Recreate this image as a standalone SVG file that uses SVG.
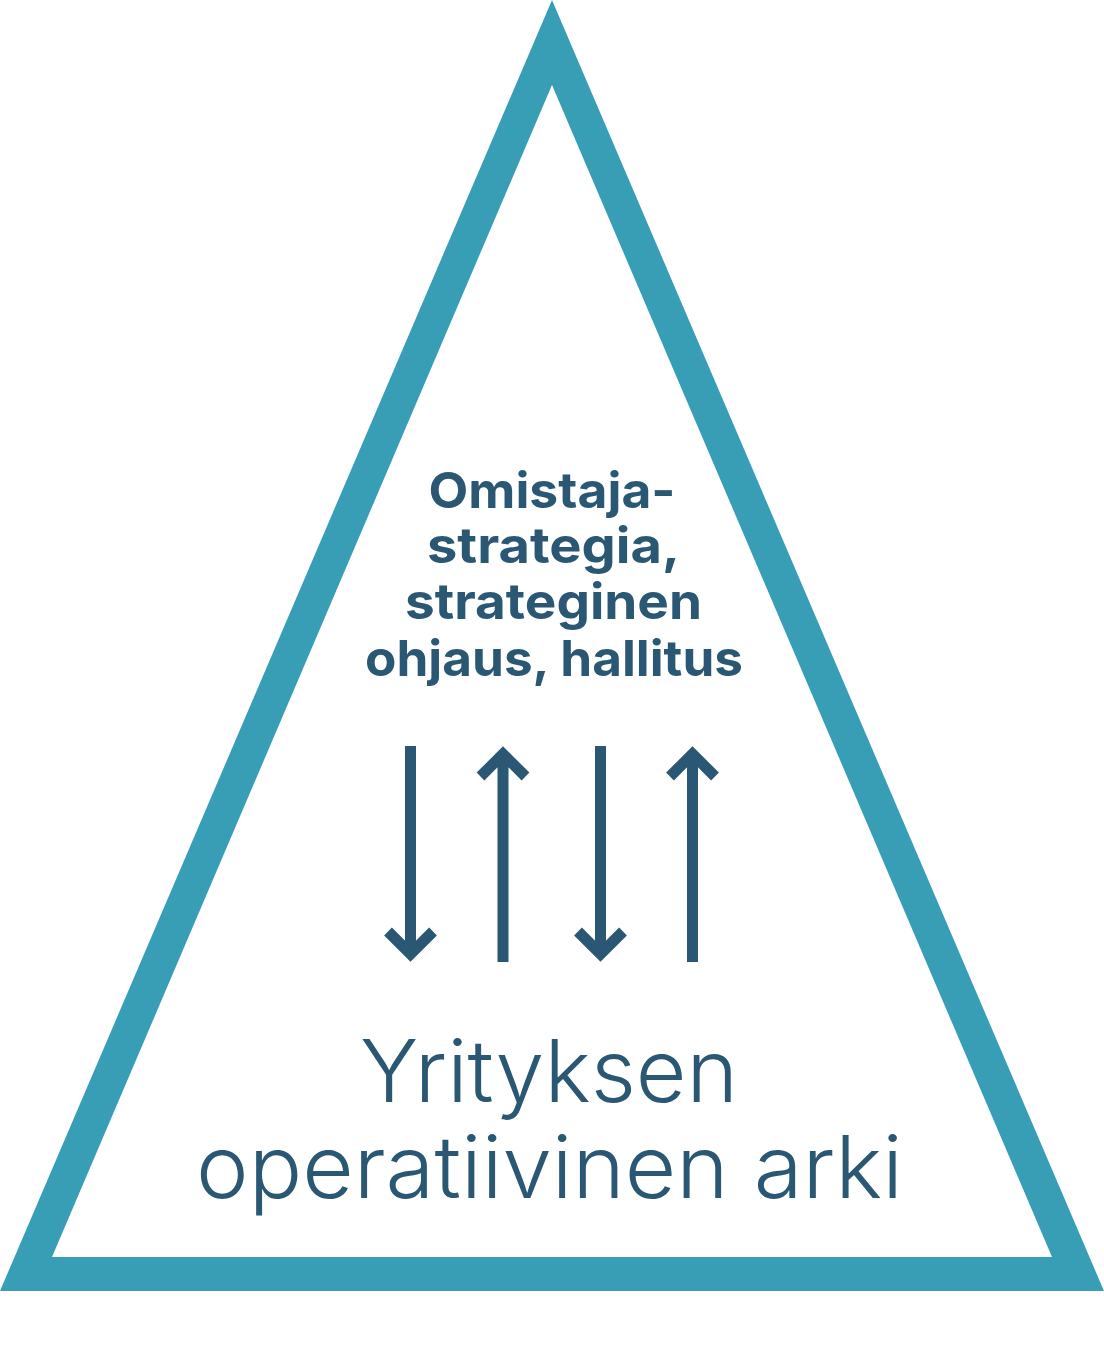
<svg xmlns="http://www.w3.org/2000/svg" width="1104" height="1347" viewBox="0 0 1104 1347">
<style>
.tri{fill:#379EB6;fill-rule:evenodd}
.arr{fill:none;stroke:#2A5874;stroke-width:11;stroke-linecap:butt;stroke-linejoin:miter;stroke-miterlimit:10}
.bold{font-family:Inter,"Open Sans","Liberation Sans",sans-serif;font-weight:700;font-size:50px;fill:#2A5874;text-anchor:middle}
.light{font-family:Inter,Lato,"Liberation Sans",sans-serif;font-weight:300;font-size:86px;fill:#2A5874;text-anchor:middle}
</style>
<rect width="1104" height="1347" fill="#ffffff"/>
<g id="triangle">
<path class="tri" d="M552,0 L1104,1291 L0,1291 Z M552,85 L52,1257 L1052,1257 Z"/>
</g>
<g id="node-top">
<text class="bold" x="552" y="508" textLength="247" lengthAdjust="spacingAndGlyphs">Omistaja-</text>
<text class="bold" x="553.5" y="563" textLength="253" lengthAdjust="spacingAndGlyphs">strategia,</text>
<text class="bold" x="553.5" y="619" textLength="297" lengthAdjust="spacingAndGlyphs">strateginen</text>
<text class="bold" x="554" y="676" textLength="378" lengthAdjust="spacingAndGlyphs">ohjaus, hallitus</text>
</g>
<g id="node-bottom">
<text class="light" x="549" y="1102" textLength="378" lengthAdjust="spacingAndGlyphs">Yrityksen</text>
<text class="light" x="549.5" y="1198" textLength="707" lengthAdjust="spacingAndGlyphs">operatiivinen arki</text>
</g>
<g id="connectors">
<path class="arr" d="M410.5,746 V956 M388,931.5 L410.5,954 L433,931.5"/>
<path class="arr" d="M503,962 V752 M480.5,776.5 L503,754 L525.5,776.5"/>
<path class="arr" d="M600.5,746 V956 M578,931.5 L600.5,954 L623,931.5"/>
<path class="arr" d="M692.5,962 V752 M670,776.5 L692.5,754 L715,776.5"/>
</g>
</svg>
